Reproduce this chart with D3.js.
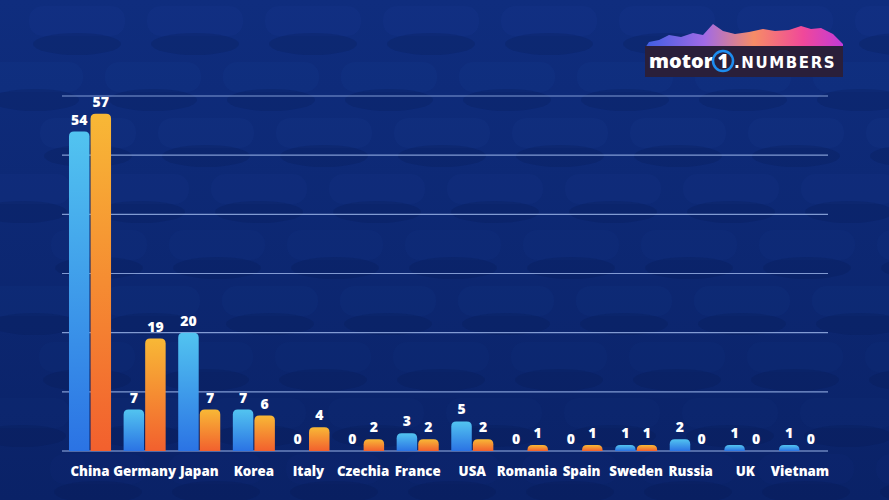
<!DOCTYPE html>
<html>
<head>
<meta charset="utf-8">
<script src="https://cdn.jsdelivr.net/npm/d3@7"></script>
<style>
  html, body { margin: 0; padding: 0; background: #0c2672; }
  svg { display: block; }
</style>
</head>
<body>
<svg width="889" height="500"></svg>
<script>
var countries = ['China', 'Germany', 'Japan', 'Korea', 'Italy', 'Czechia', 'France',
                 'USA', 'Romania', 'Spain', 'Sweden', 'Russia', 'UK', 'Vietnam'];
var blueValues = [54, 7, 20, 7, 0, 0, 3, 5, 0, 0, 1, 2, 1, 1];
var orangeValues = [57, 19, 7, 6, 4, 2, 2, 2, 1, 1, 1, 0, 0, 0];
var gridTicks = [0, 10, 20, 30, 40, 50, 60];

var svg = d3.select('svg');
var width = +svg.attr('width');
var height = +svg.attr('height');
var defs = svg.append('defs');
var labelFont = '"Open Sans", Lato, sans-serif';

// background
var bg = defs.append('linearGradient').attr('id', 'bg').attr('x1', 0).attr('y1', 0).attr('x2', 0).attr('y2', 1);
bg.append('stop').attr('offset', '0%').attr('stop-color', '#0f2d7e');
bg.append('stop').attr('offset', '100%').attr('stop-color', '#0a2267');
svg.append('rect').attr('width', width).attr('height', height).attr('fill', 'url(#bg)');

// faint car roofs in the background
var roofs = svg.append('g');
for (var row = 0; row < 9; row++) {
  for (var col = 0; col < 9; col++) {
    var cx = col * 118 + (row % 2 ? 0 : 59) - 30 + (row * 17) % 23;
    var cy = row * 56 + 6;
    roofs.append('rect')
      .attr('x', cx).attr('y', cy)
      .attr('width', 96).attr('height', 30)
      .attr('rx', 14)
      .attr('fill', '#1c4099')
      .attr('opacity', 0.16 - row * 0.012);
    roofs.append('ellipse')
      .attr('cx', cx + 48).attr('cy', cy + 38)
      .attr('rx', 44).attr('ry', 11)
      .attr('fill', '#061649')
      .attr('opacity', 0.18);
  }
}

// gradients for bars
var gb = defs.append('linearGradient').attr('id', 'gBlue').attr('x1', 0).attr('y1', 0).attr('x2', 0).attr('y2', 1);
gb.append('stop').attr('offset', '0%').attr('stop-color', '#52c4f0');
gb.append('stop').attr('offset', '100%').attr('stop-color', '#2b73e4');
var go = defs.append('linearGradient').attr('id', 'gOrange').attr('x1', 0).attr('y1', 0).attr('x2', 0).attr('y2', 1);
go.append('stop').attr('offset', '0%').attr('stop-color', '#f8b836');
go.append('stop').attr('offset', '100%').attr('stop-color', '#f2602e');

var x = d3.scaleBand().domain(countries).range([62, 828]).paddingInner(0.23).paddingOuter(0.128);
var xInner = d3.scaleBand().domain(['blue', 'orange']).range([0, x.bandwidth()]).padding(0.05).paddingOuter(0);
var y = d3.scaleLinear().domain([0, 60]).range([451, 96]);

// gridlines
svg.append('g').selectAll('line')
  .data(gridTicks)
  .enter().append('line')
    .attr('x1', 62).attr('x2', 828)
    .attr('y1', function(d) { return y(d); })
    .attr('y2', function(d) { return y(d); })
    .attr('stroke', '#a9c3f5')
    .attr('stroke-opacity', function(d) { return d === 0 ? 0.9 : 0.75; })
    .attr('stroke-width', 1.2);

var rows = countries.map(function(c, i) {
  return [
    { country: c, key: 'blue', value: blueValues[i], fill: 'url(#gBlue)' },
    { country: c, key: 'orange', value: orangeValues[i], fill: 'url(#gOrange)' }
  ];
});

function topRounded(x0, y0, w, h, r) {
  if (h <= 0) return '';
  r = Math.min(r, h, w / 2);
  return 'M' + x0 + ',' + (y0 + h) +
    'V' + (y0 + r) +
    'Q' + x0 + ',' + y0 + ' ' + (x0 + r) + ',' + y0 +
    'H' + (x0 + w - r) +
    'Q' + (x0 + w) + ',' + y0 + ' ' + (x0 + w) + ',' + (y0 + r) +
    'V' + (y0 + h) + 'Z';
}

function barHeight(d) {
  return d.value === 0 ? 0 : Math.max(y(0) - y(d.value), 5);
}

var groups = svg.append('g').selectAll('g')
  .data(rows)
  .enter().append('g')
    .attr('transform', function(d) { return 'translate(' + x(d[0].country) + ',0)'; });

groups.selectAll('path')
  .data(function(d) { return d; })
  .enter().append('path')
    .attr('d', function(d) {
      var hh = barHeight(d);
      return topRounded(xInner(d.key), y(0) - hh, xInner.bandwidth(), hh, 5);
    })
    .attr('fill', function(d) { return d.fill; });

groups.selectAll('text')
  .data(function(d) { return d; })
  .enter().append('text')
    .attr('x', function(d) { return xInner(d.key) + xInner.bandwidth() / 2; })
    .attr('y', function(d) { return y(0) - barHeight(d) - 7; })
    .attr('text-anchor', 'middle')
    .attr('font-family', labelFont)
    .attr('font-weight', 800)
    .attr('font-size', 14)
    .attr('fill', '#ffffff')
    .text(function(d) { return d.value; });

// category labels
svg.append('g').selectAll('text')
  .data(countries)
  .enter().append('text')
    .attr('x', function(d) { return x(d) + x.bandwidth() / 2; })
    .attr('y', 476)
    .attr('text-anchor', 'middle')
    .attr('font-family', labelFont)
    .attr('font-weight', 800)
    .attr('font-size', 13.3)
    .attr('fill', '#ffffff')
    .text(function(d) { return d; });

// logo
var logo = svg.append('g').attr('transform', 'translate(645,22)');
var lg = defs.append('linearGradient').attr('id', 'gLogo').attr('x1', 0).attr('y1', 0).attr('x2', 1).attr('y2', 0);
lg.append('stop').attr('offset', '0%').attr('stop-color', '#3d5ee2');
lg.append('stop').attr('offset', '30%').attr('stop-color', '#a06ae6');
lg.append('stop').attr('offset', '55%').attr('stop-color', '#f68c66');
lg.append('stop').attr('offset', '80%').attr('stop-color', '#f0489a');
lg.append('stop').attr('offset', '100%').attr('stop-color', '#c23ad8');
var mountain = [[0, 26], [4, 20], [14, 18], [24, 13], [36, 15], [48, 11], [58, 13], [68, 2], [78, 9],
  [90, 12], [104, 10], [118, 7], [130, 9], [144, 8], [156, 4], [166, 7], [176, 6], [188, 12], [198, 22]];
var pts = mountain.concat([[198, 26]]);
logo.append('path')
  .attr('d', d3.line()(pts) + 'Z')
  .attr('fill', 'url(#gLogo)');
logo.append('rect').attr('x', 0).attr('y', 24).attr('width', 198).attr('height', 31).attr('fill', '#2a1f3a');
logo.append('text')
  .attr('x', 4).attr('y', 46)
  .attr('font-family', '"Open Sans", sans-serif')
  .attr('font-weight', 800)
  .attr('font-size', 20)
  .attr('fill', '#ffffff')
  .text('motor');
logo.append('circle').attr('cx', 78).attr('cy', 39).attr('r', 10)
  .attr('fill', 'none').attr('stroke', '#1d8df0').attr('stroke-width', 2.5);
logo.append('text')
  .attr('x', 78).attr('y', 46)
  .attr('text-anchor', 'middle')
  .attr('font-family', '"Open Sans", sans-serif')
  .attr('font-weight', 800)
  .attr('font-size', 19)
  .attr('fill', '#ffffff')
  .text('1');
logo.append('text')
  .attr('x', 89).attr('y', 46)
  .attr('font-family', '"DejaVu Sans", sans-serif')
  .attr('font-weight', 'bold')
  .attr('font-size', 15)
  .attr('letter-spacing', 1.6)
  .attr('fill', '#ffffff')
  .text('.NUMBERS');
</script>
</body>
</html>
